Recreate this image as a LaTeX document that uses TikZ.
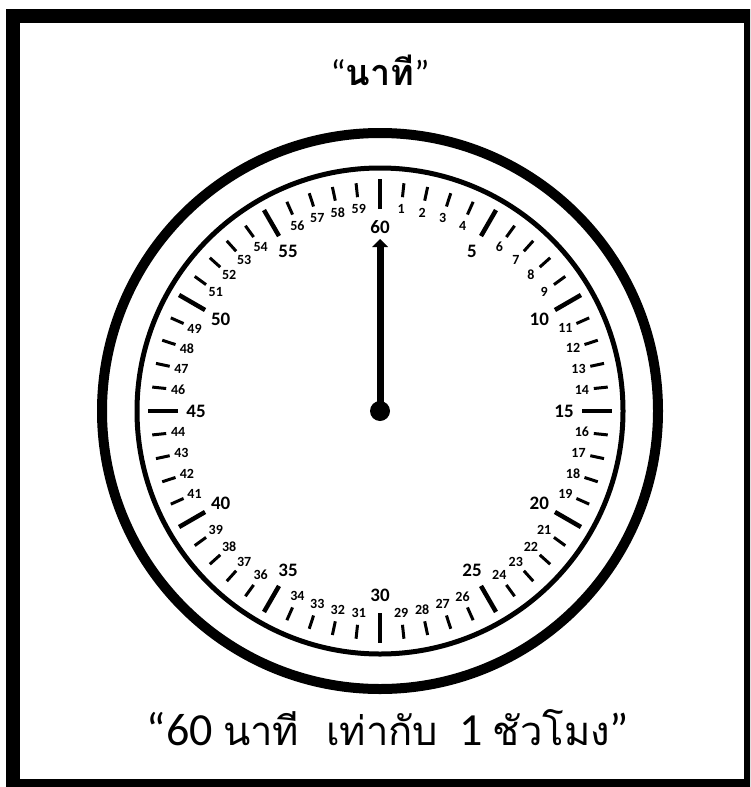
\documentclass[tikz,border=0pt]{standalone}
\usepackage{fontspec}
\setmainfont{Carlito}
\newfontfamily\thaifont[Script=Thai]{Loma}
\begin{document}
\begin{tikzpicture}[x=1pt,y=-1pt,
  minortick/.style={line width=3pt},
  majortick/.style={line width=4.5pt},
  minornum/.style={font=\fontsize{14}{14}\selectfont\bfseries, inner sep=0pt},
  majornum/.style={font=\fontsize{19}{19}\selectfont\bfseries, inner sep=0pt},
  thaitext/.style={inner sep=0pt}]
\useasboundingbox (0,0) rectangle (750,787);
\fill[white] (0,0) rectangle (750,787);
\begin{scope}
  \clip (0,0) rectangle (750,787);
  \draw[line width=14pt] (13,16) rectangle (751,786);
\end{scope}
\node[thaitext, font=\fontsize{36}{36}\selectfont] (title) at (380,70) {“{\thaifont\bfseries นาที}”};
\begin{scope}[shift={(380,411)}]
  \draw[line width=10pt] (0,0) circle[radius=278];
  \draw[line width=5pt] (0,0) circle[radius=243];
  \foreach \i in {0,...,59} {
    \pgfmathtruncatemacro\m{mod(\i,5)}
    \ifnum\m=0
      \draw[majortick] ({6*\i-90}:202) -- ({6*\i-90}:232);
    \else
      \draw[minortick] ({6*\i-90}:215) -- ({6*\i-90}:229);
    \fi
  }
  \foreach \i in {1,...,60} {
    \pgfmathtruncatemacro\m{mod(\i,5)}
    \ifnum\m=0
      \node[majornum] (n\i) at ({6*\i-90}:184) {\i};
    \else
      \node[minornum] (n\i) at ({6*\i-90}:203) {\i};
    \fi
  }
  \draw[line width=7pt] (0,0) -- (0,-165);
  \fill (-8,-164) -- (0,-172) -- (8,-164) -- cycle;
  \fill (0,0) circle[radius=10];
\end{scope}
\node[thaitext, font=\fontsize{46}{46}\selectfont] (caption) at (388,728) {“60 {\thaifont\fontsize{40}{40}\selectfont นาที\ \ เท่ากับ}\ \ 1 {\thaifont\fontsize{40}{40}\selectfont ชัวโมง}”};
\end{tikzpicture}
\end{document}
